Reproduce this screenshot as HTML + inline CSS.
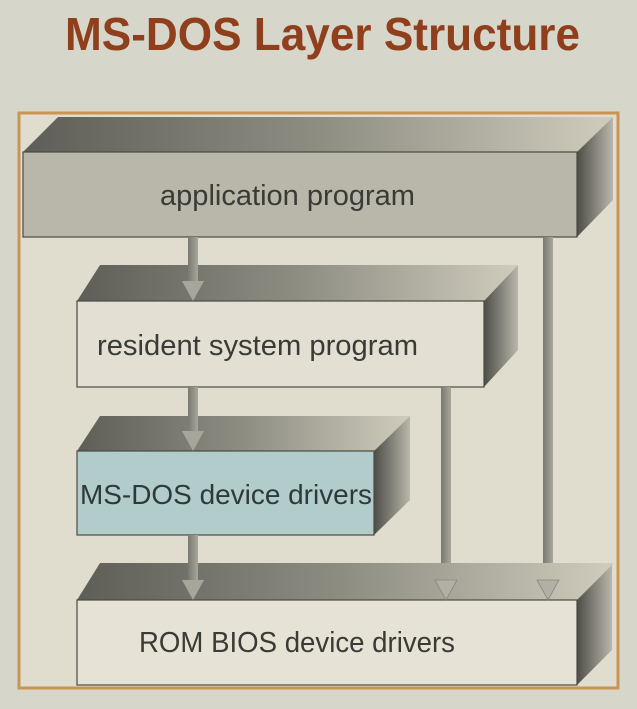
<!DOCTYPE html>
<html><head><meta charset="utf-8"><style>
html,body{margin:0;padding:0;background:#d6d7ca;}
svg{display:block;}
text{font-family:"Liberation Sans",sans-serif;}
</style></head><body>
<svg width="637" height="709" viewBox="0 0 637 709" xmlns="http://www.w3.org/2000/svg">
<defs>
<linearGradient id="top" x1="0" x2="1" y1="0" y2="0">
<stop offset="0" stop-color="#5e5e58"/><stop offset="0.5" stop-color="#8e8d82"/><stop offset="1" stop-color="#cfccbd"/>
</linearGradient>
<linearGradient id="side" x1="0" x2="1" y1="0" y2="0">
<stop offset="0" stop-color="#4e4e48"/><stop offset="1" stop-color="#b9b7aa"/>
</linearGradient>
<linearGradient id="shaft" x1="0" x2="1">
<stop offset="0" stop-color="#7a7970"/><stop offset="1" stop-color="#a9a79b"/>
</linearGradient>
</defs>
<rect width="637" height="709" fill="#d6d7ca"/>
<text x="65" y="50" font-size="46" font-weight="bold" fill="#8f3f1c" textLength="515" lengthAdjust="spacingAndGlyphs">MS-DOS Layer Structure</text>
<rect x="19" y="113" width="599" height="575" fill="#e0ddcf" stroke="#c99454" stroke-width="3"/>

<!-- box1 -->
<polygon points="23,152 58,117 613,117 577,152" fill="url(#top)"/>
<polygon points="577,152 613,117 613,200 577,237" fill="url(#side)"/>
<rect x="23" y="152" width="554" height="85" fill="#b9b7a9" stroke="#4a4a44" stroke-width="1.2"/>
<text x="160" y="205" font-size="29" fill="#3a3a36" textLength="255" lengthAdjust="spacingAndGlyphs">application program</text>

<rect x="543" y="237" width="10" height="345" fill="url(#shaft)"/>

<!-- box2 -->
<polygon points="77,301 100,265 518,265 484,301" fill="url(#top)"/>
<polygon points="484,301 518,265 518,350 484,387" fill="url(#side)"/>
<rect x="77" y="301" width="407" height="86" fill="#e3dfd2" stroke="#4a4a44" stroke-width="1.2"/>
<text x="97" y="355" font-size="29" fill="#3a3a36" textLength="321" lengthAdjust="spacingAndGlyphs">resident system program</text>
<rect x="188" y="237" width="10" height="46" fill="url(#shaft)"/>
<polygon points="182,281 204,281 193,301" fill="#a8a69a"/>

<rect x="441" y="387" width="10" height="195" fill="url(#shaft)"/>

<!-- box3 -->
<polygon points="77,451 100,416 410,416 374,451" fill="url(#top)"/>
<polygon points="374,451 410,416 410,500 374,535" fill="url(#side)"/>
<rect x="77" y="451" width="297" height="84" fill="#b2cbcb" stroke="#4a4a44" stroke-width="1.2"/>
<text x="80" y="504" font-size="28" fill="#2e3a3a" textLength="292" lengthAdjust="spacingAndGlyphs">MS-DOS device drivers</text>
<rect x="188" y="387" width="10" height="46" fill="url(#shaft)"/>
<polygon points="182,431 204,431 193,451" fill="#a8a69a"/>

<!-- box4 -->
<polygon points="77,600 100,563 613,563 613,565 577,600" fill="url(#top)"/>
<polygon points="577,600 612,565 612,650 577,685" fill="url(#side)"/>
<rect x="77" y="600" width="500" height="85" fill="#e6e3d6" stroke="#4a4a44" stroke-width="1.2"/>
<text x="139" y="652" font-size="29" fill="#3a3a36" textLength="316" lengthAdjust="spacingAndGlyphs">ROM BIOS device drivers</text>
<rect x="188" y="535" width="10" height="47" fill="url(#shaft)"/>
<polygon points="182,580 204,580 193,600" fill="#a8a69a"/>
<polygon points="435,580 457,580 446,600" fill="#b2b0a4" stroke="#8a887e" stroke-width="0.8"/>
<polygon points="537,580 559,580 548,600" fill="#b2b0a4" stroke="#8a887e" stroke-width="0.8"/>
</svg>
</body></html>
